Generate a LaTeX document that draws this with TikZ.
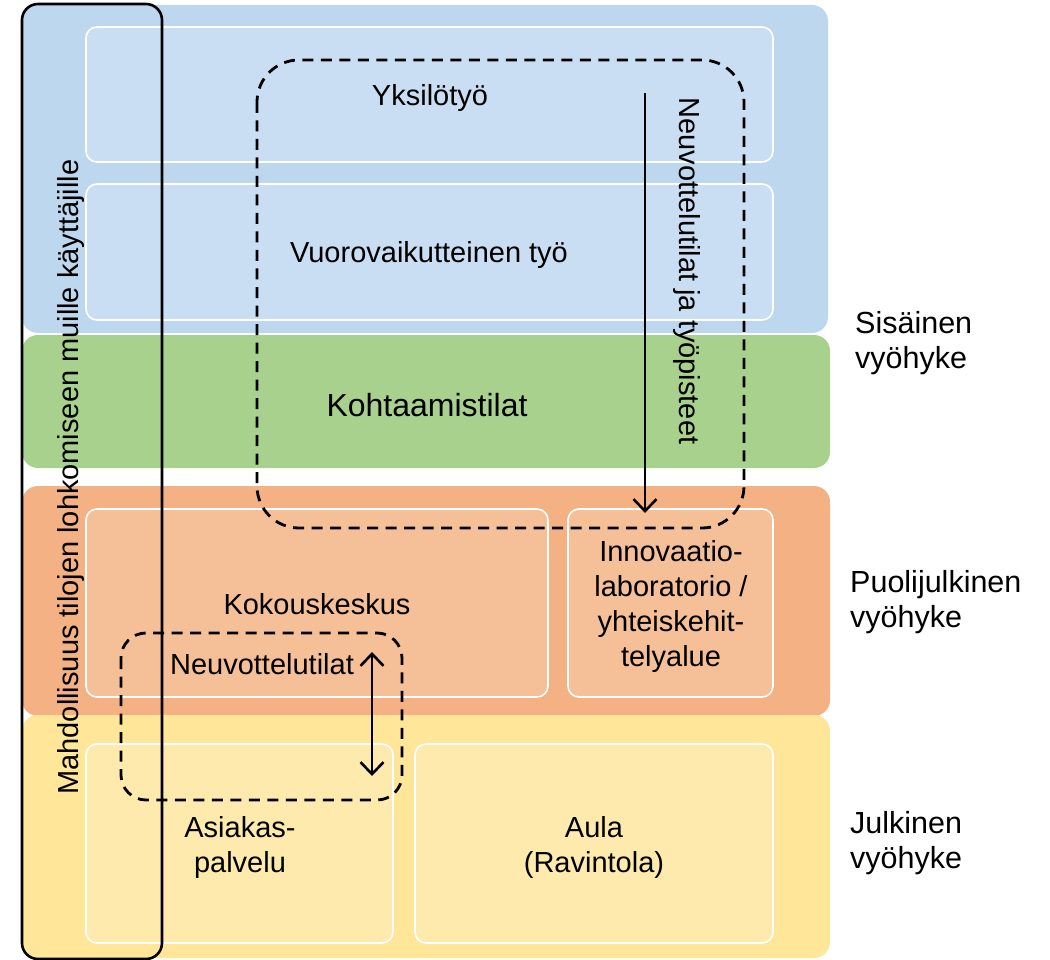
\documentclass[tikz,border=0pt]{standalone}
\usepackage{fontspec}
\setmainfont{Liberation Sans}
\usetikzlibrary{arrows.meta}
\definecolor{bandblue}{HTML}{BDD7EE}
\definecolor{innerblue}{HTML}{C9DEF2}
\definecolor{bandgreen}{HTML}{A9D18E}
\definecolor{bandorange}{HTML}{F4B183}
\definecolor{innerorange}{HTML}{F5BF98}
\definecolor{bandyellow}{HTML}{FFE699}
\definecolor{inneryellow}{HTML}{FFEAAD}
\tikzset{
  band/.style={rounded corners=16pt},
  innerbox/.style={draw=white, line width=1.6pt, rounded corners=11pt},
  dashbox/.style={draw=black, line width=2.8pt, dash pattern=on 11pt off 7.5pt},
  txt/.style={font=\fontsize{29}{35}\selectfont, inner sep=0pt, align=center},
  zonetxt/.style={font=\fontsize{30.5}{35}\selectfont, inner sep=0pt, align=left, anchor=base west},
  arr/.style={line width=2.6pt}
}
\begin{document}
\begin{tikzpicture}[x=1pt,y=-1pt]
\useasboundingbox (0,0) rectangle (1050,960);
% bands
\fill[band, bandblue] (22,5) rectangle (828,333);
\fill[band, bandgreen] (22,335) rectangle (830,468);
\fill[band, bandorange] (22,486) rectangle (830,716);
\fill[band, bandyellow] (22,715) rectangle (830,958);
% inner boxes
\draw[innerbox, fill=innerblue] (86,27) rectangle (773,162);
\draw[innerbox, fill=innerblue] (86,184) rectangle (773,320);
\draw[innerbox, fill=innerorange] (86,509) rectangle (548,697);
\draw[innerbox, fill=innerorange] (568,509) rectangle (773,697);
\draw[innerbox, fill=inneryellow] (86,744) rectangle (393,943);
\draw[innerbox, fill=inneryellow] (415,744) rectangle (773,943);
% outlines
\draw[line width=2.6pt, rounded corners=16pt] (22,4) rectangle (162,959);
\draw[dashbox, rounded corners=42pt] (257,60) rectangle (744,528);
\draw[dashbox, rounded corners=25pt] (121,633) rectangle (402,800);
% texts
\node[txt, anchor=base] (yks) at (430,106) {Yksilötyö};
\node[txt, anchor=base] (vuo) at (429,263) {Vuorovaikutteinen työ};
\node[txt, anchor=base, font=\fontsize{32}{36}\selectfont] (koh) at (427,416) {Kohtaamistilat};
\node[txt, anchor=base] (kok) at (317,614) {Kokouskeskus};
\node[txt, anchor=base] (neu) at (262,674) {Neuvottelutilat};
\node[txt, anchor=base] (inn) at (671,666) {Innovaatio-\\laboratorio~/\\yhteiskehit-\\telyalue};
\node[txt, anchor=base] (asi) at (240,872) {Asiakas-\\palvelu};
\node[txt, anchor=base] (aul) at (594,872) {Aula\\(Ravintola)};
\node[txt, anchor=base, rotate=90] (mah) at (78,477) {Mahdollisuus tilojen lohkomiseen muille käyttäjille};
\node[txt, anchor=base, rotate=-90] (nja) at (679,271) {Neuvottelutilat ja työpisteet};
\node[zonetxt] (sis) at (855,368) {Sisäinen\\vyöhyke};
\node[zonetxt] (puo) at (850,627) {Puolijulkinen\\vyöhyke};
\node[zonetxt] (jul) at (850,868) {Julkinen\\vyöhyke};
% arrows
\coordinate (a1) at (645,93);
\coordinate (a2) at (645,513);
\coordinate (b1) at (372,652);
\coordinate (b2) at (372,776);
\draw[arr, -{Straight Barb[length=12pt,width=23pt]}] (a1) -- (a2);
\draw[arr, {Straight Barb[length=12pt,width=23pt]}-{Straight Barb[length=12pt,width=23pt]}] (b1) -- (b2);
\end{tikzpicture}
\end{document}
